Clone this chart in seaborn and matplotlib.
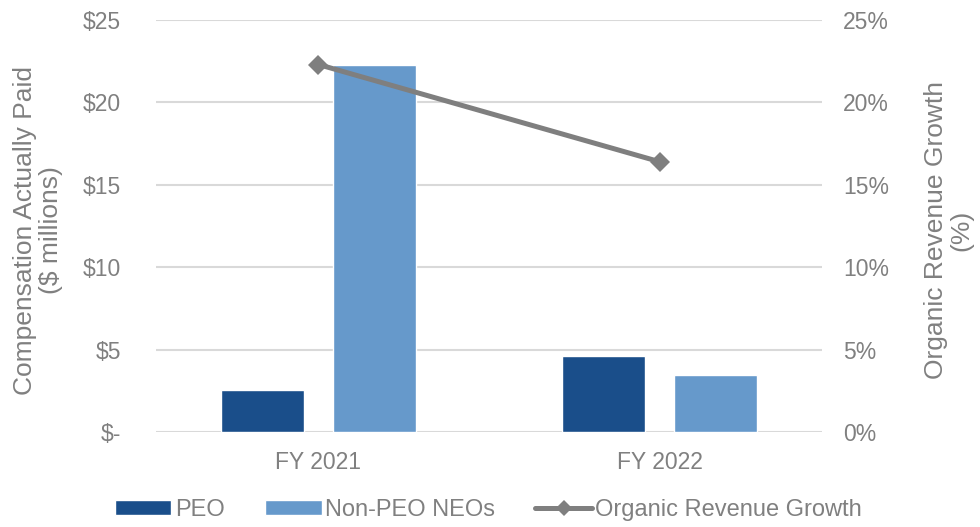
import numpy as np
import pandas as pd
import matplotlib.pyplot as plt
import seaborn as sb
from matplotlib.patches import Patch
from matplotlib.lines import Line2D

years      = ['FY 2021', 'FY 2022']
peo        = [2.55, 4.6]
non_peo    = [22.3, 3.45]
org_growth = [22.3, 16.4]
comp_ticks = [0, 5, 10, 15, 20, 25]
comp_labels = ['$-', '$5', '$10', '$15', '$20', '$25']
pct_labels = ['0%', '5%', '10%', '15%', '20%', '25%']

dark_blue  = '#1a4e8a'
light_blue = '#6699cb'
line_grey  = '#7f7f7f'
text_grey  = '#808080'
grid_grey  = '#d9d9d9'

sb.set_style('white')
plt.rcParams['font.family'] = ['Liberation Sans', 'DejaVu Sans']

df = pd.DataFrame({
    'year':  years * 2,
    'group': ['PEO'] * len(years) + ['Non-PEO NEOs'] * len(years),
    'value': peo + non_peo,
})

fig = plt.figure(figsize=(9.8, 5.27), dpi=100)
ax = fig.add_axes([0.159, 0.1803, 0.680, 0.7817])

# Bars for compensation actually paid
sb.barplot(data=df, x='year', y='value', hue='group',
           palette=[dark_blue, light_blue], width=0.656, gap=0.259,
           saturation=1, legend=False, ax=ax)
ax.set_xlim(-0.4765, 1.4765)
ax.set_ylim(0, 25)
ax.set_yticks(comp_ticks)
ax.set_yticklabels(comp_labels)
ax.yaxis.grid(True, color=grid_grey, linewidth=1.5)
ax.set_axisbelow(True)
ax.tick_params(axis='y', length=0, pad=25, labelsize=16.5, labelcolor=text_grey)
ax.tick_params(axis='x', length=0, pad=14, labelsize=16.5, labelcolor=text_grey)
ax.set_xlabel('')
ax.set_ylabel('Compensation Actually Paid\n($ millions)', fontsize=19,
              color=text_grey, linespacing=1.1)
ax.yaxis.set_label_coords(-0.140, 0.49)
for s in ax.spines.values():
    s.set_visible(False)

# Organic revenue growth on the secondary axis
ax2 = ax.twinx()
sb.lineplot(x=np.arange(len(years)), y=org_growth, ax=ax2, color=line_grey,
            linewidth=3.6, marker='D', markersize=10, markeredgewidth=0)
ax2.set_ylim(0, 25)
ax2.set_yticks(comp_ticks)
ax2.set_yticklabels(pct_labels)
ax2.tick_params(axis='y', length=0, pad=15, labelsize=16.5, labelcolor=text_grey)
ax2.set_ylabel('Organic Revenue Growth\n(%)', fontsize=19, color=text_grey,
               linespacing=1.1)
ax2.yaxis.set_label_coords(1.152, 0.49)
for s in ax2.spines.values():
    s.set_visible(False)

handles = [
    Patch(facecolor=dark_blue, label='PEO'),
    Patch(facecolor=light_blue, label='Non-PEO NEOs'),
    Line2D([0], [0], color=line_grey, linewidth=3.6, marker='D',
           markersize=8, markeredgewidth=0, label='Organic Revenue Growth'),
]
fig.legend(handles=handles, loc='center', bbox_to_anchor=(0.4985, 0.032),
           ncol=3, frameon=False, fontsize=17, labelcolor=text_grey,
           handlelength=2.4, handleheight=0.6, handletextpad=0.15,
           columnspacing=1.7)

fig.savefig('out.png', dpi=100)
